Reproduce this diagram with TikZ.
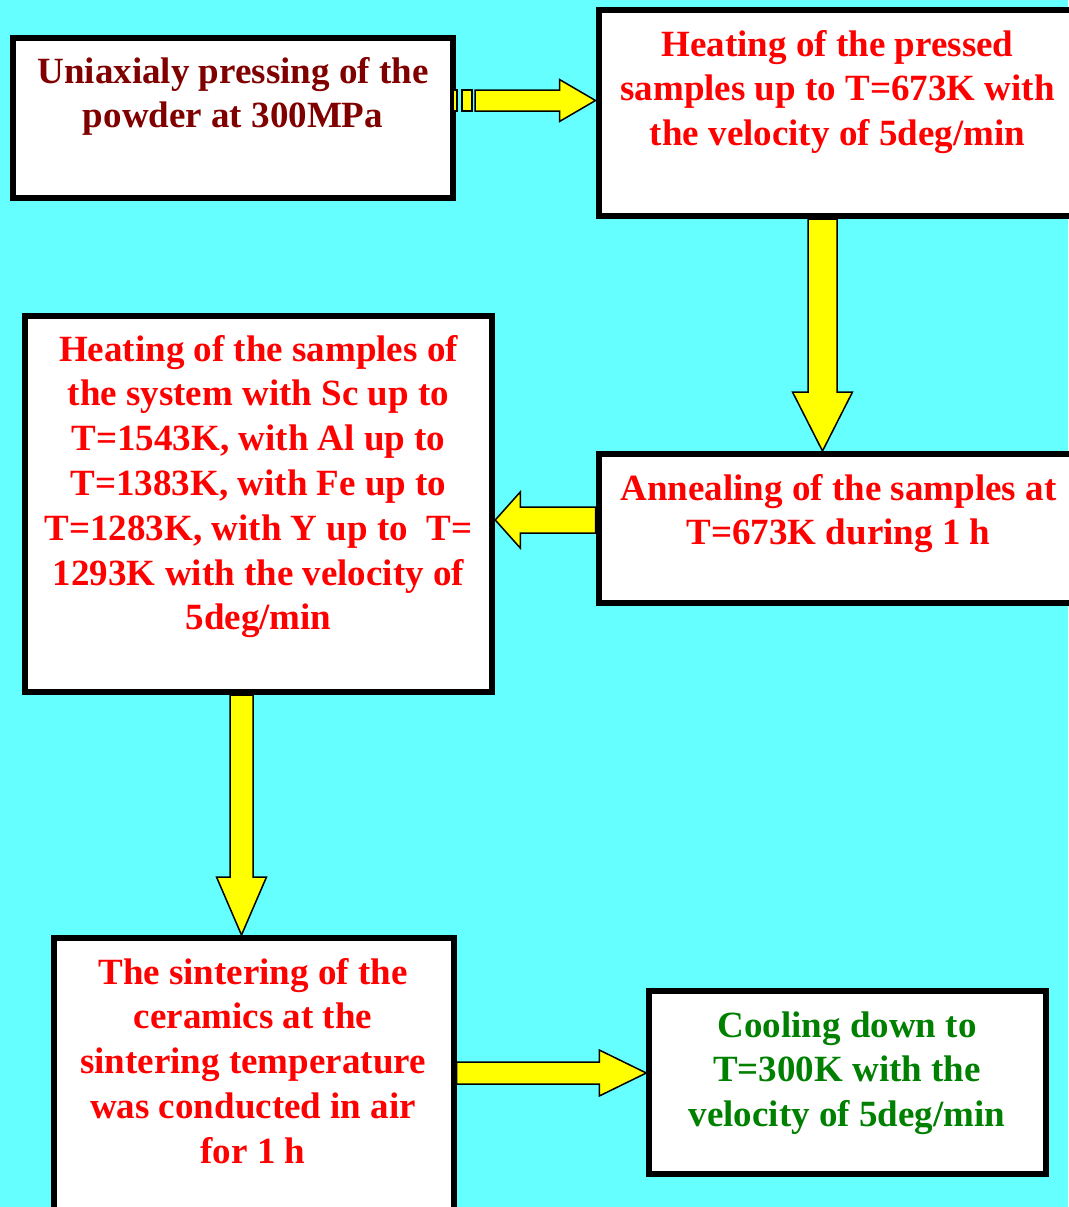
\documentclass[tikz,border=0pt]{standalone}
\usepackage{fontspec}
\setmainfont{Liberation Serif}
\usetikzlibrary{calc}
\definecolor{bgcyan}{HTML}{66FFFF}
\definecolor{arrowyellow}{HTML}{FFFF00}
\definecolor{darkmaroon}{HTML}{800000}
\definecolor{stepred}{HTML}{FF0000}
\definecolor{stepgreen}{HTML}{008000}

% block arrow: start, tip, half shaft width, half head width, head length
\newcommand\blockarrow[5]{%
  \coordinate (hb) at ($(#2)!#5!(#1)$);
  \filldraw[arrowfill]
    ($(#1)!#3!90:(#2)$) -- ($(hb)!#3!90:(#2)$) -- ($(hb)!#4!90:(#2)$) --
    (#2) --
    ($(hb)!#4!-90:(#2)$) -- ($(hb)!#3!-90:(#2)$) -- ($(#1)!#3!-90:(#2)$) -- cycle;
}

\begin{document}
\begin{tikzpicture}[x=1pt,y=-1pt,
  box/.style={rectangle,draw=black,line width=6pt,fill=white,inner sep=0pt},
  % texts are placed by the baseline of their last line
  boxtext/.style={anchor=base,align=center,inner sep=0pt,
    font=\fontsize{37}{44.8}\selectfont\bfseries},
  arrowfill/.style={fill=arrowyellow,draw=black,line width=1.5pt,line join=miter}]

\fill[bgcyan] (0,0) rectangle (1068,1207);
\useasboundingbox (0,0) rectangle (1068,1207);

% process boxes
\node[box,minimum width=440pt,minimum height=159pt] (b1) at (232.5,118) {};
\node[box,minimum width=480pt,minimum height=206pt] (b2) at (838.5,113) {};
\node[box,minimum width=480pt,minimum height=149pt] (b3) at (838.5,528.5) {};
\node[box,minimum width=467pt,minimum height=376.5pt] (b4) at (258.75,503.75) {};
\node[box,minimum width=400pt,minimum height=277pt] (b5) at (253.5,1076.5) {};
\node[box,minimum width=397pt,minimum height=182.5pt] (b6) at (847.75,1082.5) {};

% texts
\node[boxtext,text=darkmaroon] (t1) at (233,127.8)
  {Uniaxialy pressing of the\\powder at 300MPa};
\node[boxtext,text=stepred] (t2) at (837.5,145.6)
  {Heating of the pressed\\samples up to T=673K with\\the velocity of 5deg/min};
\node[boxtext,text=stepred] (t3) at (838.5,544.8)
  {Annealing of the samples at\\T=673K during 1 h};
\node[boxtext,text=stepred] (t4) at (258.5,629.8)
  {Heating of the samples of\\the system with Sc up to\\T=1543K, with Al up to\\T=1383K, with Fe up to\\T=1283K, with Y up to\ \ T=\\1293K with the velocity of\\5deg/min};
\node[boxtext,text=stepred] (t5) at (253,1163.2)
  {The sintering of the\\ceramics at the\\sintering temperature\\was conducted in air\\for 1 h};
\node[boxtext,text=stepgreen] (t6) at (847,1126.6)
  {Cooling down to\\T=300K with the\\velocity of 5deg/min};

% connectors
\coordinate (a1b) at (475,100.5);
\coordinate (a1e) at (b2.west |- 0,100.5);
\filldraw[arrowfill] (453,90) rectangle (457,111);
\filldraw[arrowfill] (462,90) rectangle (472,111);
\blockarrow{a1b}{a1e}{10.5pt}{21pt}{36pt}

\coordinate (a2s) at (b2.south -| 822.5,0);
\coordinate (a2e) at (b3.north -| 822.5,0);
\blockarrow{a2s}{a2e}{14.5pt}{30pt}{59pt}

\coordinate (a3s) at (b3.west |- 0,520);
\coordinate (a3e) at (b4.east |- 0,520);
\blockarrow{a3s}{a3e}{13pt}{28pt}{25pt}

\coordinate (a4s) at (b4.south -| 241.5,0);
\coordinate (a4e) at (b5.north -| 241.5,0);
\blockarrow{a4s}{a4e}{11.5pt}{25pt}{58pt}

\coordinate (a5s) at (b5.east |- 0,1073);
\coordinate (a5e) at (b6.west |- 0,1073);
\blockarrow{a5s}{a5e}{11pt}{23pt}{47pt}

\end{tikzpicture}
\end{document}
